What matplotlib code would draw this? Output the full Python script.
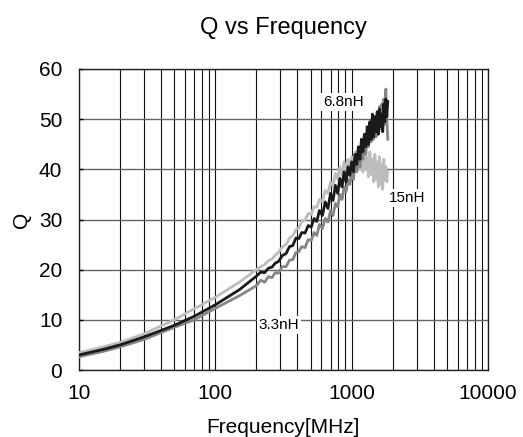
import matplotlib
matplotlib.use("Agg")
import matplotlib.pyplot as plt
from matplotlib.ticker import LogLocator, FixedLocator, NullFormatter

plt.rcParams['font.family'] = ['Liberation Sans', 'DejaVu Sans']

# ---- data ----
freq_mhz = [10, 15, 20, 30, 50, 70, 100, 150,
            200, 215, 230, 245, 260, 275, 290, 310, 330, 350, 370, 390, 410, 430,
            455, 480, 505, 530, 555, 580, 610, 640, 670, 700, 730, 760, 790, 820,
            850, 880, 910, 940, 970, 1000, 1030, 1060, 1090, 1120, 1150, 1180, 1210,
            1240, 1270, 1300, 1330, 1360, 1390, 1420, 1450, 1480, 1510, 1540, 1570,
            1600, 1630, 1660, 1690, 1720, 1750, 1780, 1810, 1840]

q_15nH = [3.45, 4.6, 5.5, 7.2, 10.0, 12.2, 14.5, 17.5,
          20.0, 20.6, 21.0, 21.8, 22.1, 22.9, 23.4, 24.5, 25.0, 26.3, 26.8, 28.0, 28.3, 29.6,
          29.9, 31.2, 31.0, 32.6, 32.4, 34.0, 33.6, 35.8, 35.2, 37.5, 36.6, 39.2, 38.0, 40.5,
          38.8, 41.5, 39.5, 42.0, 40.2, 42.5, 40.0, 43.5, 40.5, 44.0, 40.0, 43.0, 39.5,
          44.5, 40.0, 42.5, 38.5, 43.5, 39.0, 42.0, 37.5, 43.0, 38.0, 41.5, 36.5,
          42.5, 37.0, 41.0, 36.0, 42.0, 38.0, 40.5, 37.5, 39.5]

q_6_8nH = [3.0, 4.1, 5.0, 6.6, 8.9, 10.7, 13.0, 16.0,
           18.7, 19.5, 19.4, 20.3, 20.5, 21.3, 21.6, 22.8, 23.2, 24.6, 24.8, 26.3, 26.2, 27.4,
           27.3, 28.8, 28.5, 30.2, 29.6, 31.8, 30.8, 33.5, 32.2, 35.2, 33.8, 36.8, 35.2, 38.2,
           36.5, 39.5, 37.5, 40.5, 38.8, 41.5, 39.5, 43.0, 41.0, 44.5, 42.0, 46.0, 43.5,
           47.0, 44.5, 48.5, 45.0, 49.5, 46.0, 51.0, 46.5, 50.5, 47.5, 51.5, 47.0,
           52.0, 48.5, 51.0, 47.5, 53.0, 49.5, 54.0, 50.5, 53.5]

q_3_3nH = [2.65, 3.7, 4.6, 6.1, 8.5, 10.0, 12.3, 14.8,
           16.8, 17.9, 17.5, 18.6, 18.4, 19.4, 19.3, 20.6, 20.6, 21.9, 22.0, 23.4, 23.6, 24.6,
           24.4, 26.0, 25.8, 27.4, 26.8, 29.0, 28.2, 30.2, 29.5, 31.8, 30.8, 33.2, 32.5, 35.0,
           34.0, 36.5, 35.5, 38.0, 37.0, 39.5, 38.0, 41.0, 39.5, 42.5, 40.5, 44.0, 42.0,
           45.5, 43.0, 47.0, 44.5, 48.0, 45.5, 49.5, 46.0, 50.0, 46.5, 51.0, 47.5,
           52.5, 48.0, 53.0, 48.5, 54.0, 49.0, 56.0, 50.0, 46.0]

series_labels = ["15nH", "6.8nH", "3.3nH"]
label_pos_f = [2550, 865, 293]
label_pos_q = [34.3, 53.4, 9.0]

x_ticks = [10, 100, 1000, 10000]
x_tick_labels = ["10", "100", "1000", "10000"]
y_ticks = [0, 10, 20, 30, 40, 50, 60]

# ---- figure ----
fig = plt.figure(figsize=(5.23, 4.37), dpi=100)
ax = fig.add_axes([79/523, 67/437, (488-79)/523, (370-69)/437])

ax.set_xscale('log')
ax.set_xlim(10, 10000)
ax.set_ylim(0, 60)

ax.xaxis.set_major_locator(FixedLocator(x_ticks))
ax.xaxis.set_minor_locator(LogLocator(base=10, subs=range(2, 10)))
ax.xaxis.set_minor_formatter(NullFormatter())
ax.set_xticks(x_ticks)
ax.set_xticklabels(x_tick_labels)
ax.set_yticks(y_ticks)
ax.grid(True, which='both', axis='x', color='#111111', linewidth=0.8)
ax.grid(True, which='major', axis='y', color='#666666', linewidth=1.0)
ax.set_axisbelow(True)

ax.tick_params(axis='x', which='both', length=0, pad=10, labelsize=15)
ax.tick_params(axis='y', which='major', direction='in', length=3, width=1,
               pad=12, labelsize=15, left=True)
for s in ax.spines.values():
    s.set_color('#222222')
    s.set_linewidth(1.0)

# curves
ax.plot(freq_mhz, q_15nH, color='#bdbdbd', linewidth=2.0, zorder=3)
ax.plot(freq_mhz, q_3_3nH, color='#858585', linewidth=2.0, zorder=4)
ax.plot(freq_mhz, q_6_8nH, color='#1a1a1a', linewidth=2.0, zorder=5)

for lab, f, q in zip(series_labels, label_pos_f, label_pos_q):
    ax.text(f, q, lab, fontsize=11, ha='center', va='center', zorder=6,
            bbox=dict(facecolor='white', edgecolor='none', pad=1.5))

ax.set_title("Q vs Frequency", fontsize=17, pad=25)
fig.text(283/523, (437-433)/437, "Frequency[MHz]", fontsize=15, ha='center', va='baseline')
fig.text(21/523, (437-220)/437, "Q", fontsize=15, ha='center', va='center', rotation=90)

fig.savefig("out.png", dpi=100)
